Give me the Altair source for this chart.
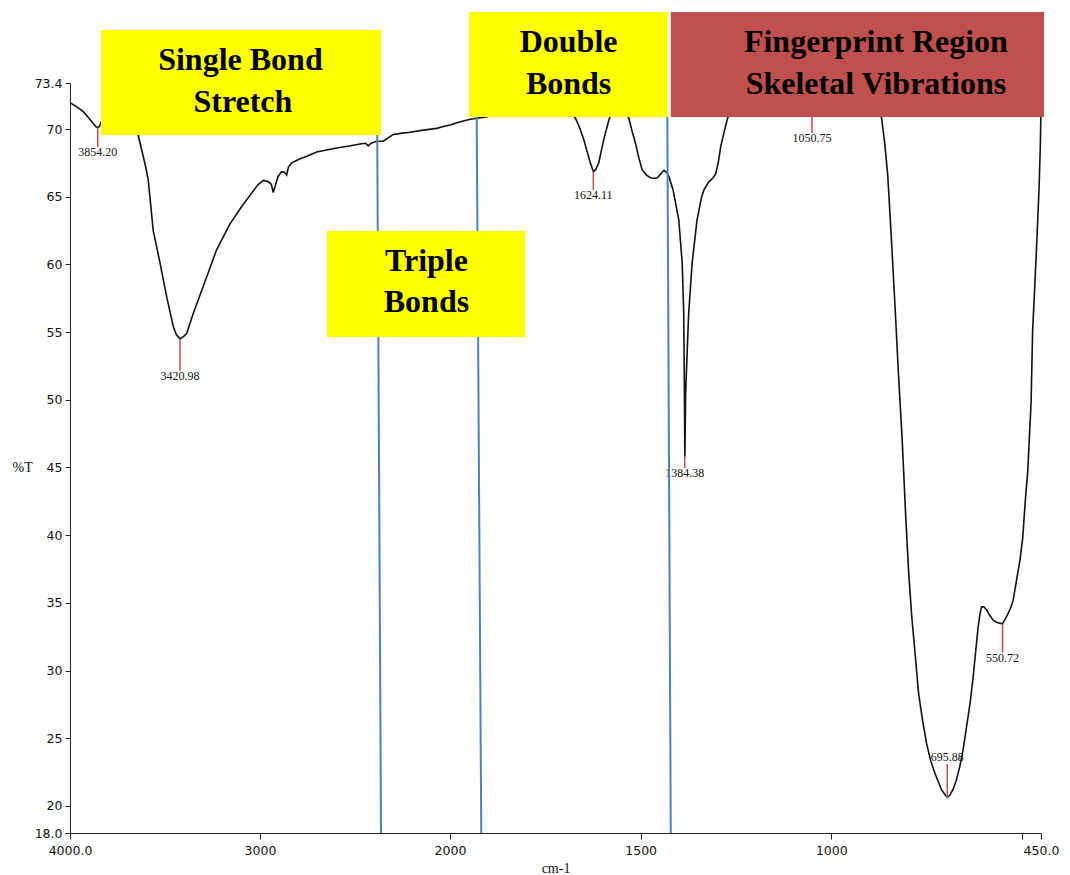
import altair as alt
import pandas as pd

# ---------------- spectrum ----------------
wavenumber = [
    4000, 3960, 3930, 3900, 3880, 3865, 3854, 3845, 3830, 3800, 3760, 3720, 3690, 3665,
    3642, 3620, 3600, 3588, 3562, 3526, 3491, 3456, 3440, 3421, 3400, 3386, 3351, 3298,
    3228, 3158, 3100, 3053, 3010, 2982, 2955, 2940, 2930, 2920, 2905, 2886, 2870, 2860,
    2850, 2833, 2789, 2750, 2702, 2650, 2596, 2530, 2474, 2445, 2430, 2415, 2386, 2351,
    2320, 2298, 2250, 2211, 2150, 2070, 2030, 2000, 1982, 1950, 1930, 1904, 1870, 1820,
    1760, 1720, 1690, 1671, 1660, 1649, 1640, 1632, 1624, 1618, 1610, 1597, 1583, 1570,
    1555, 1542, 1531, 1522, 1513, 1505, 1496, 1485, 1474, 1465, 1456, 1447, 1439, 1432,
    1426, 1415, 1400, 1391, 1387, 1385.5, 1384, 1382, 1378, 1374, 1365, 1352, 1340, 1334,
    1321, 1310, 1303, 1296, 1290, 1280, 1272, 1260, 1230, 1180, 1120, 1080, 1051, 1020,
    960, 910, 885, 875, 868, 860, 852, 843, 833, 824, 814, 805, 797, 789, 781, 771, 760,
    750, 740, 728, 711, 700, 696, 690, 681, 672, 663, 654, 645, 636, 628, 621, 615, 610,
    606, 600, 593, 585, 575, 565, 558, 551, 546, 540, 530, 523, 514, 505, 498, 490, 485,
    480, 476, 472, 467, 463, 459, 455, 452, 450,
]
transmittance = [
    71.95, 71.6, 71.28, 70.8, 70.45, 70.2, 70.1, 70.2, 70.7, 71.3, 71.8, 71.8, 71.2, 70.5,
    69.6, 68.3, 67.1, 66.2, 62.5, 60.1, 57.6, 55.4, 54.8, 54.5, 54.7, 54.9, 56.4, 58.4,
    61.1, 63.0, 64.2, 65.1, 65.9, 66.2, 66.1, 65.9, 65.3, 65.8, 66.5, 66.85, 66.8, 66.6,
    67.2, 67.5, 67.8, 68.0, 68.3, 68.45, 68.6, 68.75, 68.9, 68.95, 68.75, 68.95, 69.1, 69.1,
    69.4, 69.6, 69.7, 69.76, 69.9, 70.05, 70.2, 70.3, 70.47, 70.7, 70.8, 70.9, 71.2, 71.6,
    71.9, 71.8, 71.4, 70.8, 70.1, 69.2, 68.3, 67.5, 66.85, 67.0, 67.5, 69.2, 70.7, 71.6,
    71.8, 71.4, 70.8, 69.8, 68.9, 67.9, 67.0, 66.6, 66.4, 66.35, 66.4, 66.7, 66.95, 66.8,
    66.5, 65.5, 63.3, 60.1, 56.4, 51.5, 45.8, 50.5, 53.5, 56.4, 60.1, 63.3, 65.0, 65.5,
    66.1, 66.4, 66.7, 67.6, 68.7, 69.9, 70.8, 71.6, 72.3, 72.6, 72.4, 72.0, 71.8, 72.1,
    72.6, 72.6, 72.0, 71.4, 70.8, 69.0, 66.6, 62.2, 57.0, 52.0, 47.0, 41.5, 37.2, 34.0,
    31.5, 28.3, 26.2, 24.6, 23.4, 22.4, 21.2, 20.75, 20.65, 20.75, 21.2, 21.9, 22.9, 24.2,
    25.9, 27.6, 29.5, 31.5, 33.2, 34.2, 34.7, 34.7, 34.5, 34.1, 33.7, 33.55, 33.5, 33.45,
    33.7, 34.0, 34.6, 35.2, 36.7, 38.2, 39.8, 43.0, 44.6, 47.5, 49.8, 55.1, 58.0, 60.4,
    63.0, 65.7, 68.5, 71.5,
]

# ---------------- peak markers ----------------
peak_labels = ["3854.20", "3420.98", "1624.11", "1384.38", "1050.75", "695.88", "550.72"]
peak_wn = [3854.20, 3420.98, 1624.11, 1384.38, 1050.75, 695.88, 550.72]
peak_t = [70.1, 54.5, 66.85, 45.8, 71.8, 20.65, 33.45]
peak_end_t = [68.67, 52.13, 65.5, 44.97, 69.71, 23.1, 31.32]
peak_above = [False, False, False, False, False, True, False]

# ---------------- region boxes ----------------
box_names = ["single", "double", "finger", "triple"]
box_wn_from = [3837, 1950, 1421, 2647]
box_wn_to = [2363, 1429, 442, 1803]
box_t_top = [77.31, 78.64, 78.64, 62.47]
box_t_bottom = [69.56, 70.89, 70.89, 54.64]
box_colors = ["#FFFF00", "#FFFF00", "#C0504D", "#FFFF00"]

box_text = ["Single Bond", "Stretch", "Double", "Bonds", "Fingerprint Region",
            "Skeletal Vibrations", "Triple", "Bonds"]
box_text_wn = [3103, 3090, 1689, 1689, 883, 883, 2124, 2124]
box_text_t = [75.1, 72.0, 76.45, 73.35, 76.45, 73.35, 60.25, 57.2]

# ---------------- region dividers ----------------
div_wn_top = [2383, 1930, 1430]
div_wn_bottom = [2363, 1918, 1421]
div_t_top = [69.56, 70.89, 70.89]
div_t_bottom = [18.0, 18.0, 18.0]

# ---------------- axes ----------------
x_ticks = [4000, 3000, 2000, 1500, 1000, 500, 450]
y_ticks = [18, 20, 25, 30, 35, 40, 45, 50, 55, 60, 65, 70, 73.4]

W, H = 971, 750
xscale = alt.Scale(domain=[4000, 2000, 450], range=[0, 380, W], zero=False, nice=False)
yscale = alt.Scale(domain=[18, 73.4], zero=False, nice=False)

spec = pd.DataFrame({"wn": wavenumber, "t": transmittance, "i": range(len(wavenumber))})
peaks = pd.DataFrame({"label": peak_labels, "wn": peak_wn, "t": peak_t,
                      "t2": peak_end_t, "above": peak_above})
boxes = pd.DataFrame({"name": box_names, "x1": box_wn_from, "x2": box_wn_to,
                      "y1": box_t_top, "y2": box_t_bottom, "color": box_colors})
btext = pd.DataFrame({"text": box_text, "wn": box_text_wn, "t": box_text_t})
divs = pd.DataFrame({"x1": div_wn_top, "x2": div_wn_bottom, "y1": div_t_top, "y2": div_t_bottom})

x_axis = alt.Axis(
    values=x_ticks, title="cm-1", format="d",
    labelExpr="datum.value == 4000 ? '4000.0' : datum.value == 450 ? '450.0' : datum.value == 500 ? '' : datum.label",
    labelFont="DejaVu Sans", labelFontSize=12.5, labelColor="#111", labelOverlap=False,
    labelFlush=False, labelPadding=5, tickSize=6, tickColor="#222", domainColor="#222",
    grid=False, titleFont="Liberation Serif", titleFontSize=14,
    titleFontWeight="normal", titleColor="#111", titleY=35, titleBaseline="middle",
)
y_axis = alt.Axis(
    values=y_ticks, title="%T",
    labelExpr="datum.value == 18 ? '18.0' : datum.value == 73.4 ? '73.4' : datum.label",
    labelFont="DejaVu Sans", labelFontSize=12.5, labelColor="#111", labelOverlap=False,
    labelFlush=False, labelPadding=3, tickSize=5, tickColor="#222", domainColor="#222",
    grid=False, titleFont="Liberation Serif", titleFontSize=14,
    titleFontWeight="normal", titleColor="#111", titleAngle=0, titleAlign="left",
    titleBaseline="middle", titleX=-58, titleY=384,
)

curve = alt.Chart(spec).mark_line(color="#111", strokeWidth=1.6).encode(
    x=alt.X("wn:Q", scale=xscale, axis=x_axis),
    y=alt.Y("t:Q", scale=yscale, axis=y_axis),
    order="i:Q",
)

marker_rules = alt.Chart(peaks).mark_rule(color="#C0504D", strokeWidth=1.5).encode(
    x="wn:Q", y="t:Q", y2="t2:Q"
)
labels_below = alt.Chart(peaks).transform_filter("!datum.above").mark_text(
    font="Liberation Serif", fontSize=12, baseline="top", align="center", dy=0, color="#111"
).encode(x="wn:Q", y="t2:Q", text="label:N")
labels_above = alt.Chart(peaks).transform_filter("datum.above").mark_text(
    font="Liberation Serif", fontSize=12, baseline="bottom", align="center", dy=0, color="#111"
).encode(x="wn:Q", y="t2:Q", text="label:N")

div_rules = alt.Chart(divs).mark_rule(color="#4F81BD", strokeWidth=2).encode(
    x="x1:Q", x2="x2:Q", y="y1:Q", y2="y2:Q"
)

rects = alt.Chart(boxes).mark_rect().encode(
    x="x1:Q", x2="x2:Q", y="y1:Q", y2="y2:Q",
    color=alt.Color("color:N", scale=None),
)
rect_text = alt.Chart(btext).mark_text(
    font="Liberation Serif", fontSize=32, fontWeight="bold", color="#000",
    baseline="middle", align="center",
).encode(x="wn:Q", y="t:Q", text="text:N")

chart = alt.layer(
    curve, marker_rules, labels_below, labels_above, div_rules, rects, rect_text
).properties(
    width=W, height=H,
    background="white",
    view=alt.ViewBackground(stroke=None),
    autosize=alt.AutoSizeParams(type="none"),
    padding={"left": 62, "top": 75, "right": 20, "bottom": 42},
).configure_view(stroke=None).configure_axis(grid=False)

chart.save("out.html", embed_options={"renderer": "svg", "actions": False})
